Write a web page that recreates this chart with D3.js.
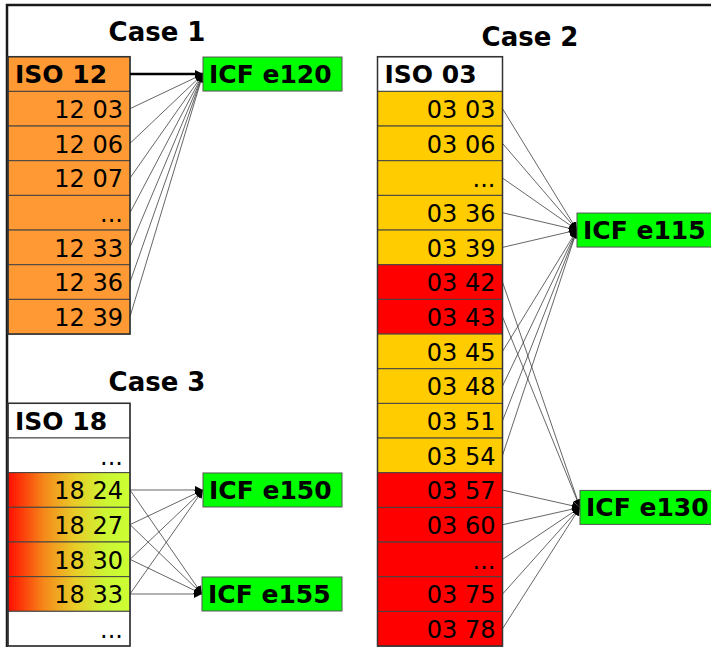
<!DOCTYPE html>
<html>
<head>
<meta charset="utf-8">
<script src="https://cdn.jsdelivr.net/npm/d3@7"></script>
<style>
  body { margin: 0; background: #fff; }
  svg { display: block; font-family: Verdana, "DejaVu Sans", sans-serif; }
</style>
</head>
<body>
<div id="chart"></div>
<script>
// ---- data ----
const case1Header = "ISO 12";
const case1Rows = ["12 03", "12 06", "12 07", "...", "12 33", "12 36", "12 39"];
const case1Fill = ["o", "o", "o", "o", "o", "o", "o"];
const case1Links = [["12 03", "e120"], ["12 06", "e120"], ["12 07", "e120"], ["...", "e120"],
                    ["12 33", "e120"], ["12 36", "e120"], ["12 39", "e120"]];

const case2Header = "ISO 03";
const case2Rows = ["03 03", "03 06", "... ", "03 36", "03 39", "03 42", "03 43", "03 45",
                   "03 48", "03 51", "03 54", "03 57", "03 60", "...", "03 75", "03 78"];
const case2Fill = ["y", "y", "y", "y", "y", "r", "r", "y", "y", "y", "y", "r", "r", "r", "r", "r"];
const case2Target = ["e115", "e115", "e115", "e115", "e115", "e130", "e130", "e115",
                     "e115", "e115", "e115", "e130", "e130", "e130", "e130", "e130"];

const case3Header = "ISO 18";
const case3Rows = ["... ", "18 24", "18 27", "18 30", "18 33", "..."];
const case3Fill = ["w", "g", "g", "g", "g", "w"];
const case3Links = [["18 24", "e150"], ["18 24", "e155"], ["18 27", "e150"], ["18 27", "e155"],
                    ["18 30", "e150"], ["18 30", "e155"], ["18 33", "e150"], ["18 33", "e155"]];

const colors = { o: "#ff9933", y: "#ffcc00", r: "#ff0000", w: "#ffffff", g: "url(#grad)" };

// ---- drawing ----
const width = 711, height = 647;
const rowH = 34.67;

const svg = d3.select("#chart").append("svg")
  .attr("width", width)
  .attr("height", height);

const defs = svg.append("defs");
const grad = defs.append("linearGradient").attr("id", "grad");
grad.selectAll("stop")
  .data([[0, "#ff0d00"], [0.3, "#f58a1a"], [0.55, "#e8cc28"], [0.8, "#ccf533"], [1, "#ccff33"]])
  .join("stop")
  .attr("offset", d => d[0])
  .attr("stop-color", d => d[1]);

defs.append("marker")
  .attr("id", "arrow")
  .attr("viewBox", "0 0 10 10")
  .attr("refX", 10).attr("refY", 5)
  .attr("markerWidth", 8).attr("markerHeight", 8)
  .attr("markerUnits", "userSpaceOnUse")
  .attr("orient", "auto")
  .append("path")
  .attr("d", "M0,0L10,5L0,10z")
  .attr("fill", "#000");

// frame
svg.append("path")
  .attr("d", "M7,647V5H711")
  .attr("fill", "none")
  .attr("stroke", "#1a1a1a")
  .attr("stroke-width", 2.5);

function drawTable(g, header, headerFill, rows, fills, x0, x1, top) {
  const y = d3.scaleBand()
    .domain(d3.range(rows.length + 1))
    .range([top, top + rowH * (rows.length + 1)]);

  const cells = [{ label: header, fill: headerFill, head: true }]
    .concat(rows.map((r, i) => ({ label: r.trim(), fill: colors[fills[i]], head: false })));

  const cell = g.selectAll("g.cell")
    .data(cells)
    .join("g")
    .attr("class", "cell");

  cell.append("rect")
    .attr("x", x0)
    .attr("y", (d, i) => y(i))
    .attr("width", x1 - x0)
    .attr("height", y.bandwidth())
    .attr("fill", d => d.fill)
    .attr("stroke", "#444")
    .attr("stroke-width", 1);

  cell.append("text")
    .attr("x", d => d.head ? x0 + 7 : x1 - 7)
    .attr("y", (d, i) => y(i) + y.bandwidth() - 8)
    .attr("text-anchor", d => d.head ? "start" : "end")
    .attr("font-weight", d => d.head ? "bold" : "normal")
    .attr("font-size", d => d.head ? 25 : 24)
    .attr("fill", "#000")
    .text(d => d.label);

  // outer border
  g.append("rect")
    .attr("x", x0).attr("y", top)
    .attr("width", x1 - x0).attr("height", rowH * (rows.length + 1))
    .attr("fill", "none")
    .attr("stroke", "#333")
    .attr("stroke-width", 1.5);

  return y;
}

function drawBox(g, label, x0, x1, cy) {
  g.append("rect")
    .attr("x", x0).attr("y", cy - 17)
    .attr("width", x1 - x0).attr("height", 34)
    .attr("fill", "#00ff00")
    .attr("stroke", "#555")
    .attr("stroke-width", 1);
  g.append("text")
    .attr("x", x0 + 6)
    .attr("y", cy + 9)
    .attr("font-weight", "bold")
    .attr("font-size", 25)
    .text("ICF " + label);
}

function drawLinks(g, links) {
  g.selectAll("line.link")
    .data(links)
    .join("line")
    .attr("class", "link")
    .attr("x1", d => d.x1).attr("y1", d => d.y1)
    .attr("x2", d => d.x2).attr("y2", d => d.y2)
    .attr("stroke", "#333")
    .attr("stroke-width", 0.75)
    .attr("marker-end", "url(#arrow)");
}

function caseTitle(text, cx, baseline) {
  svg.append("text")
    .attr("x", cx).attr("y", baseline)
    .attr("text-anchor", "middle")
    .attr("font-weight", "bold")
    .attr("font-size", 26)
    .text(text);
}

// ---- Case 1 ----
caseTitle("Case 1", 157, 41);
const g1 = svg.append("g");
const y1 = drawTable(g1, case1Header, colors.o, case1Rows, case1Fill, 8, 130, 56.7);
const t1 = { e120: { x: 203, y: y1(0) + y1.bandwidth() / 2 } };
drawLinks(g1, case1Links.map(([r, t]) => {
  const i = case1Rows.indexOf(r) + 1;
  return { x1: 130, y1: y1(i) + y1.bandwidth() / 2, x2: t1[t].x, y2: t1[t].y };
}));
g1.append("line")
  .attr("x1", 130).attr("y1", t1.e120.y)
  .attr("x2", t1.e120.x).attr("y2", t1.e120.y)
  .attr("stroke", "#000").attr("stroke-width", 2.5)
  .attr("marker-end", "url(#arrow)");
drawBox(g1, "e120", 203, 342, t1.e120.y);

// ---- Case 2 ----
caseTitle("Case 2", 530, 46);
const g2 = svg.append("g");
const y2 = drawTable(g2, case2Header, "#ffffff", case2Rows, case2Fill, 377.5, 502.5, 56.7);
const t2 = {
  e115: { x: 577, y: y2(5) },
  e130: { x: 580, y: y2(13) }
};
drawLinks(g2, case2Rows.map((r, i) => ({
  x1: 502.5, y1: y2(i + 1) + y2.bandwidth() / 2,
  x2: t2[case2Target[i]].x, y2: t2[case2Target[i]].y
})));
drawBox(g2, "e115", 577, 716, t2.e115.y);
drawBox(g2, "e130", 580, 716, t2.e130.y);

// ---- Case 3 ----
caseTitle("Case 3", 157, 391);
const g3 = svg.append("g");
const y3 = drawTable(g3, case3Header, "#ffffff", case3Rows, case3Fill, 8, 130, 403.3);
const t3 = {
  e150: { x: 203, y: y3(2) + y3.bandwidth() / 2 },
  e155: { x: 202, y: y3(5) + y3.bandwidth() / 2 }
};
drawLinks(g3, case3Links.map(([r, t]) => {
  const i = case3Rows.indexOf(r) + 1;
  return { x1: 130, y1: y3(i) + y3.bandwidth() / 2, x2: t3[t].x, y2: t3[t].y };
}));
drawBox(g3, "e150", 203, 342, t3.e150.y);
drawBox(g3, "e155", 202, 342, t3.e155.y);
</script>
</body>
</html>
